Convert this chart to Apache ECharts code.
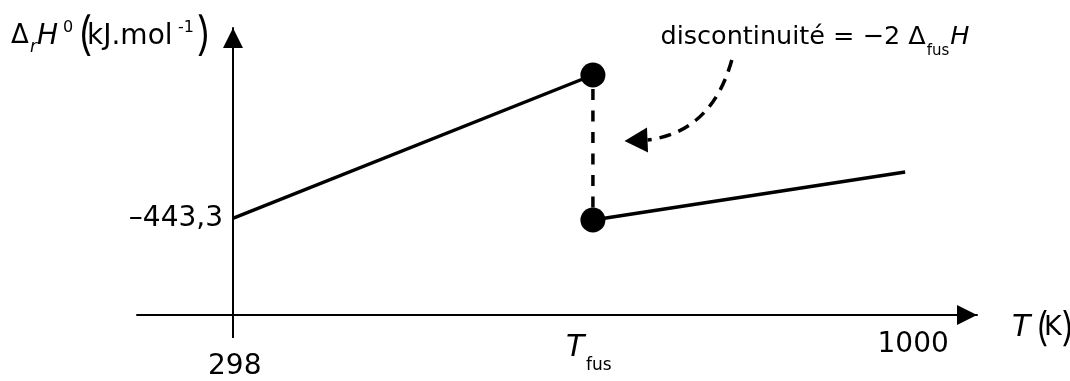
<!DOCTYPE html>
<html><head><meta charset="utf-8">
<script src="https://cdn.jsdelivr.net/npm/echarts@6/dist/echarts.min.js"></script>
<style>html,body{margin:0;padding:0;background:#fff}#c{width:1070px;height:381px}</style>
</head><body><div id="c"></div>
<script>
// ---- data (schematic values) ----
const xTickValues = [298, 674, 1000];
const xTickLabels = ['298', 'T|fus', '1000'];
const yTickValues = [-443.3];
const yTickLabels = ['–443,3'];
const seg1T = [298, 674];
const seg1H = [-443.3, -300];
const seg2T = [674, 1000];
const seg2H = [-445, -397];
const jumpT = [674, 674];
const jumpH = [-300, -445];
const arrowT = [819, 798, 731, 707];   // start, control, end, arrow tip
const arrowH = [-285, -357, -365, -366];

const X_MIN = 198, X_MAX = 1075, Y_MIN = -540, Y_MAX = -253;
const FONT = '"DejaVu Sans"';
const PAREN = 'Inter';
const chart = echarts.init(document.getElementById('c'), null, {renderer: 'canvas'});

const mctx = document.createElement('canvas').getContext('2d');
function tw(text, font) { mctx.font = font; return mctx.measureText(text).width; }
function txt(text, x, y, font, align) {
  return {type: 'text', x: x, y: y, silent: true,
    style: {text: text, font: font, fill: '#000', align: align || 'left', verticalAlign: 'middle',
            textAlign: align || 'left', textVerticalAlign: 'middle'}};
}
function pts(t, h) { return t.map((v, i) => [v, h[i]]); }

// annotation pieces chained by measured widths
const fMain = '25.5px ' + FONT, fSub = '15px ' + FONT, fIt = 'italic 25.5px ' + FONT;
const annMain = 'discontinuité = −2 Δ';
const annX0 = 660.5;
const annX1 = annX0 + tw(annMain, fMain) + 1;
const annX2 = annX1 + tw('fus', fSub) + 1;

const graphics = [
  // annotation
  txt(annMain, annX0, 37.5, fMain),
  txt('fus', annX1, 51.5, fSub),
  txt('H', annX2, 37.5, fIt),
  // y-axis name
  txt('Δ', 11, 36.5, '26px ' + FONT),
  txt('r', 30, 48, 'italic 17px ' + FONT),
  txt('H', 37, 36.5, 'italic 28px ' + FONT),
  txt('0', 63, 27.5, '16px ' + FONT),
  txt('(', 77, 36, '300 46px ' + PAREN),
  txt('kJ.mol', 87, 36.5, '28px ' + FONT),
  txt('-1', 178, 27.5, '16px ' + FONT),
  txt(')', 196, 36, '300 46px ' + PAREN),
  // x-axis name
  txt('T', 1012, 328, 'italic 30px ' + FONT),
  txt('(', 1035, 328.5, '300 40px ' + PAREN),
  txt('K', 1044, 328, '27px ' + FONT),
  txt(')', 1061, 328.5, '300 40px ' + PAREN)
];

const option = {
  animation: false,
  backgroundColor: '#fff',
  textStyle: {fontFamily: 'DejaVu Sans', color: '#000'},
  graphic: graphics,
  grid: {left: 137, right: 93, top: 28, bottom: 66, containLabel: false, outerBoundsMode: 'none'},
  xAxis: {
    type: 'value', min: X_MIN, max: X_MAX,
    splitLine: {show: false},
    axisLine: {show: true, onZero: false, lineStyle: {color: '#000', width: 2},
      symbol: ['none', 'triangle'], symbolSize: [20, 20], symbolOffset: [0, -10]},
    axisTick: {show: true, customValues: [298], length: 23, lineStyle: {color: '#000', width: 2}},
    axisLabel: {show: false}
  },
  yAxis: {
    type: 'value', min: Y_MIN, max: Y_MAX, position: 'left', offset: -96,
    splitLine: {show: false},
    axisLine: {show: true, onZero: false, lineStyle: {color: '#000', width: 2},
      symbol: ['none', 'triangle'], symbolSize: [20, 20], symbolOffset: [0, -10]},
    axisTick: {show: false},
    axisLabel: {
      show: true, customValues: yTickValues, margin: 10, padding: [4, 0, 0, 0],
      fontFamily: 'DejaVu Sans', fontSize: 28, color: '#000',
      formatter: function (v) { return yTickLabels[yTickValues.indexOf(v)]; }
    }
  },
  series: [
    {
      type: 'line', name: 'jump', data: pts(jumpT, jumpH), symbol: 'none',
      lineStyle: {color: '#000', width: 3.5, type: [11, 10.5], dashOffset: 7.5}, z: 2
    },
    {
      type: 'line', name: 'seg1', z: 3,
      data: pts(seg1T, seg1H).map((p, i) => ({value: p, symbol: i === 1 ? 'circle' : 'none', symbolSize: 25})),
      showSymbol: true, lineStyle: {color: '#000', width: 3.4}, itemStyle: {color: '#000', borderWidth: 0}
    },
    {
      type: 'line', name: 'seg2', z: 3,
      data: pts(seg2T, seg2H).map((p, i) => ({value: p, symbol: i === 0 ? 'circle' : 'none', symbolSize: 25})),
      showSymbol: true, lineStyle: {color: '#000', width: 3.4}, itemStyle: {color: '#000', borderWidth: 0}
    },
    {
      type: 'custom', name: 'arrow', z: 4,
      data: [[arrowT[0], arrowH[0]]],
      encode: {x: 0, y: 1},
      renderItem: function (params, api) {
        const p0 = api.coord([arrowT[0], arrowH[0]]);
        const c = api.coord([arrowT[1], arrowH[1]]);
        const p2 = api.coord([arrowT[2], arrowH[2]]);
        const tip = api.coord([arrowT[3], arrowH[3]]);
        const dx = tip[0] - p2[0], dy = tip[1] - p2[1];
        const len = Math.hypot(dx, dy);
        const nx = -dy / len * 12.5, ny = dx / len * 12.5;
        return {
          type: 'group',
          children: [
            {type: 'bezierCurve',
             shape: {x1: p0[0], y1: p0[1], x2: p2[0], y2: p2[1], cpx1: c[0], cpy1: c[1]},
             style: {stroke: '#000', fill: 'none', lineWidth: 3.5, lineDash: [12, 8]}},
            {type: 'polygon',
             shape: {points: [tip, [p2[0] + nx, p2[1] + ny], [p2[0] - nx, p2[1] - ny]]},
             style: {fill: '#000', stroke: 'none'}}
          ]
        };
      }
    },
    {
      // x tick labels, anchored on the axis through the x scale
      type: 'custom', name: 'xlabels', z: 5, silent: true,
      data: xTickValues.map(v => [v, Y_MIN]),
      encode: {x: 0, y: 1},
      renderItem: function (params, api) {
        const i = params.dataIndex;
        const p = api.coord([xTickValues[i], Y_MIN]);
        const lab = xTickLabels[i];
        if (lab.indexOf('|') >= 0) {
          const parts = lab.split('|');
          return {type: 'group', children: [
            txt(parts[0], p[0] - 27, p[1] + 33, 'italic 30px ' + FONT),
            txt(parts[1], p[0] - 7, p[1] + 51, '17px ' + FONT)
          ]};
        }
        if (i === 0) return txt(lab, p[0] + 2, p[1] + 52, '28px ' + FONT, 'center');
        return txt(lab, p[0] + 8, p[1] + 30, '28px ' + FONT, 'center');
      }
    }
  ]
};
chart.setOption(option);
</script></body></html>
